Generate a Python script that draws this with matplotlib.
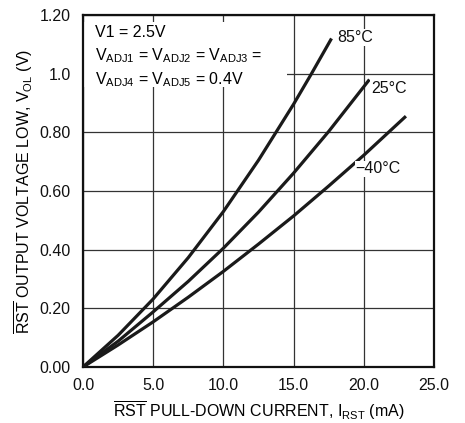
import matplotlib
matplotlib.use("Agg")
import matplotlib.pyplot as plt
from matplotlib import font_manager
from matplotlib.patches import Rectangle

fams = {f.name for f in font_manager.fontManager.ttflist}
main_font = 'Liberation Sans Narrow' if 'Liberation Sans Narrow' in fams else 'Liberation Sans'
plt.rcParams['font.family'] = [main_font, 'DejaVu Sans']
plt.rcParams['mathtext.fontset'] = 'custom'
plt.rcParams['mathtext.rm'] = main_font
plt.rcParams['mathtext.it'] = main_font
plt.rcParams['mathtext.bf'] = main_font

# Data
i_85 = [0, 2.5, 5, 7.5, 10, 12.5, 15, 16.25, 17.7]
v_85 = [0, 0.108, 0.232, 0.373, 0.53, 0.705, 0.896, 0.998, 1.12]
i_25 = [0, 2.5, 5, 7.5, 10, 12.5, 15, 17.5, 20.4]
v_25 = [0, 0.088, 0.188, 0.292, 0.405, 0.528, 0.661, 0.803, 0.98]
i_m40 = [0, 2.5, 5, 7.5, 10, 12.5, 15, 17.5, 20, 23.0]
v_m40 = [0, 0.075, 0.154, 0.238, 0.326, 0.419, 0.515, 0.617, 0.722, 0.855]

curve_labels = ['85°C', '25°C', '\u221240°C']
label_pos_x = [18.1, 20.5, 19.4]
label_pos_y = [1.123, 0.949, 0.676]

x_ticks = [0, 5, 10, 15, 20, 25]
x_tick_labels = ['0.0', '5.0', '10.0', '15.0', '20.0', '25.0']
y_ticks = [0, 0.2, 0.4, 0.6, 0.8, 1.0, 1.2]
y_tick_labels = ['0.00', '0.20', '0.40', '0.60', '0.80', '1.0', '1.20']

fig = plt.figure(figsize=(4.65, 4.23), dpi=100)
ax = fig.add_axes([83/465, 1-367/423, (434-83)/465, (367-15)/423])

ax.set_xlim(0, 25)
ax.set_ylim(0, 1.2)
ax.set_xticks(x_ticks)
ax.set_xticklabels(x_tick_labels)
ax.set_yticks(y_ticks)
ax.set_yticklabels(y_tick_labels)
ax.tick_params(axis='x', length=0, labelsize=11.5, pad=8, colors='#111111')
ax.tick_params(axis='y', length=0, labelsize=11.5, pad=9, colors='#111111')
ax.grid(True, color='#333333', lw=0.9)
ax.set_axisbelow(True)
for s in ax.spines.values():
    s.set_linewidth(1.6)
    s.set_color('#111111')

for xs, ys in [(i_85, v_85), (i_25, v_25), (i_m40, v_m40)]:
    ax.plot(xs, ys, color='#1a1a1a', lw=2.3, solid_joinstyle='round',
            solid_capstyle='butt', zorder=3)

for lab, lx, ly in zip(curve_labels, label_pos_x, label_pos_y):
    ax.text(lx, ly, lab, fontsize=11.5, ha='left', va='center', color='#111111',
            bbox=dict(facecolor='white', edgecolor='none', pad=0.5), zorder=4)

# condition box (white background over grid)
ax.add_patch(Rectangle((0.1, 0.955), 14.4, 0.22, transform=ax.transData,
                       facecolor='white', edgecolor='none', zorder=2))
ax.text(0.85, 1.14, 'V1 = 2.5V', fontsize=11.5, ha='left', va='center', zorder=5)
ax.text(0.85, 1.06, r'V$_{\mathrm{ADJ1}}$ = V$_{\mathrm{ADJ2}}$ = V$_{\mathrm{ADJ3}}$ =',
        fontsize=11.5, ha='left', va='center', zorder=5)
ax.text(0.85, 0.978, r'V$_{\mathrm{ADJ4}}$ = V$_{\mathrm{ADJ5}}$ = 0.4V',
        fontsize=11.5, ha='left', va='center', zorder=5)

ax.set_xlabel(r'$\overline{\mathrm{RST}}$ PULL-DOWN CURRENT, I$_{\mathrm{RST}}$ (mA)',
              fontsize=11.5, labelpad=4)
ax.set_ylabel(r'$\overline{\mathrm{RST}}$ OUTPUT VOLTAGE LOW, V$_{\mathrm{OL}}$ (V)',
              fontsize=11.5, labelpad=3)

fig.savefig('out.png', dpi=100)
